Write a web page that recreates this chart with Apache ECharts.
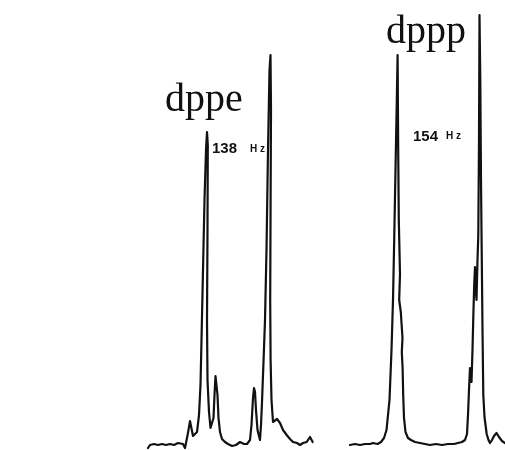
<!DOCTYPE html>
<html>
<head>
<meta charset="utf-8">
<script src="https://cdn.jsdelivr.net/npm/echarts@6/dist/echarts.min.js"></script>
<style>
html,body{margin:0;padding:0;background:#fff;}
#chart{width:505px;height:450px;}
</style>
</head>
<body>
<div id="chart"></div>
<script>
// dppe spectrum: position (arbitrary shift units) and intensity (arbitrary units)
var dppeShift = [148,150,154,158,162,166,170,174,178,180,183,185,187,188.5,190,191.5,193,195,197,199,200.5,201.5,203,204.5,206,207,207.8,207.5,207,207.5,209,210.5,212,213.5,214.5,215.5,216.5,217.5,218.5,220,222,225,228,232,236,240,244,247,250,251.5,253,254,255,256,257.5,259,260,261,262,263.5,265,266.5,268,269.5,270.5,271,270.6,270.2,270.6,271.5,273,275,277,278.3,280,283,286.7,290,293,297,300,303,306.7,310,312.7];
var dppeIntensity = [2,5,6,5,6,5,6,5,7,8,6,2,12,20,29,27,14,12,18,35,65,110,180,250,300,318,305,220,130,70,38,22,20,32,55,74,72,55,32,18,11,8,6,4,5,8,6,6,10,25,52,62,58,40,20,14,10,25,48,88,130,200,300,380,395,340,250,150,90,50,28,26,31,33,27,20,15,11,8,7,5,7,8,13,8];

// dppp spectrum
var dpppShift = [350,355,360,365,370,373,375,377.5,381,384,386.5,388,389.5,391.5,393,394,395.5,396.8,397.6,398.2,398.8,400,399.2,400.8,402.5,401.8,402.6,403.2,404,405.5,408,411,415,420,425,430,436,442,448,454,458,462,465,467,468,469,470,470.8,471.5,472.5,473.3,474.2,475,475.8,476.5,477.5,478.3,479,479.5,480.3,481,481.7,482.5,483.3,484.5,486.7,488.5,490,492,494,496.5,499,502,505];
var dpppIntensity = [5,6,5,6,6,7,9,6,8,12,20,35,50,100,150,200,280,350,395,300,230,176,150,138,112,98,82,55,32,18,12,10,8,7,6,5,6,5,6,6,7,8,10,16,35,60,82,74,68,100,133,165,183,160,150,190,215,310,435,370,270,200,120,55,33,16,10,7,10,14,17,13,9,7];

var spectrumNames = ['dppe', 'dppp'];
var couplingLabels = ['138', '154'];
var unitLabel = 'H z';

function pairs(xs, ys) {
  var out = [];
  for (var i = 0; i < xs.length; i++) out.push([xs[i], ys[i]]);
  return out;
}

var chart = echarts.init(document.getElementById('chart'), null, {renderer: 'canvas'});
var lineStyle = {color: '#111', width: 2.2, join: 'round', cap: 'round'};
chart.setOption({
  animation: false,
  backgroundColor: '#fff',
  grid: {left: 0, right: 0, top: 0, bottom: 0},
  xAxis: {type: 'value', min: 0, max: 505, show: false},
  yAxis: {type: 'value', min: 0, max: 450, show: false},
  series: [
    {type: 'line', name: spectrumNames[0], data: pairs(dppeShift, dppeIntensity),
     showSymbol: false, smooth: false, lineStyle: lineStyle},
    {type: 'line', name: spectrumNames[1], data: pairs(dpppShift, dpppIntensity),
     showSymbol: false, smooth: false, lineStyle: lineStyle}
  ],
  graphic: [
    {type: 'text', left: 165, top: 80,
     style: {text: spectrumNames[0], font: '40px "Liberation Serif"', fill: '#111'}},
    {type: 'text', left: 386, top: 12,
     style: {text: spectrumNames[1], font: '40px "Liberation Serif"', fill: '#111'}},
    {type: 'text', left: 212, top: 141,
     style: {text: couplingLabels[0], font: 'bold 15px "Liberation Sans"', fill: '#111'}},
    {type: 'text', left: 250, top: 144,
     style: {text: unitLabel, font: 'bold 10px "Liberation Sans"', fill: '#111'}},
    {type: 'text', left: 413, top: 129,
     style: {text: couplingLabels[1], font: 'bold 15px "Liberation Sans"', fill: '#111'}},
    {type: 'text', left: 446, top: 131,
     style: {text: unitLabel, font: 'bold 10px "Liberation Sans"', fill: '#111'}}
  ]
});
</script>
</body>
</html>
